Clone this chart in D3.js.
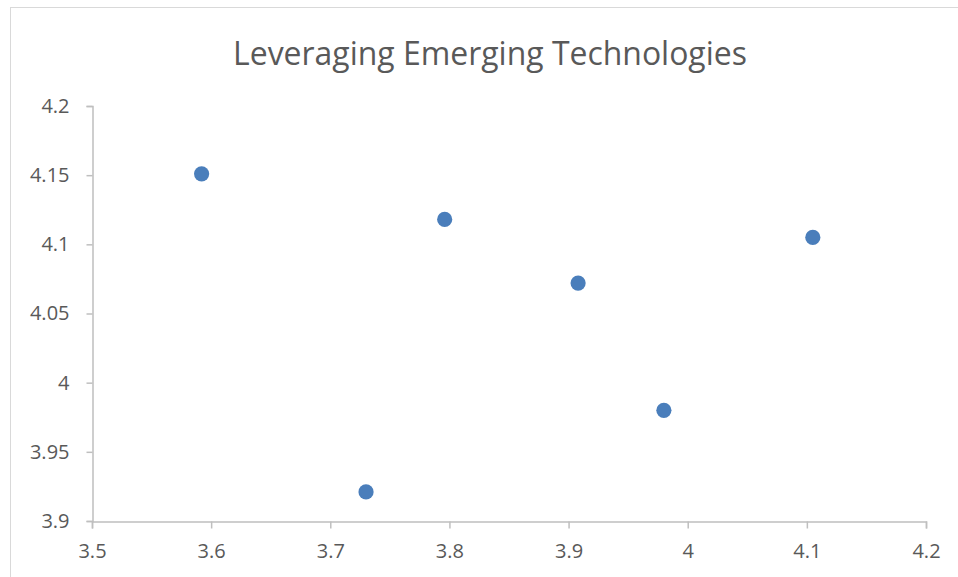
<!DOCTYPE html>
<html>
<head>
<meta charset="utf-8">
<script src="https://cdn.jsdelivr.net/npm/d3@7"></script>
<style>
  html, body { margin: 0; padding: 0; background: #fff; }
  svg { display: block; }
  text { font-family: "Open Sans", "Liberation Sans", sans-serif; fill: #595959; }
</style>
</head>
<body>
<svg id="chart" width="958" height="577"></svg>
<script>
// Chart data
const title = "Leveraging Emerging Technologies";
const xValues = [3.592, 3.796, 3.908, 4.105, 3.980, 3.730];
const yValues = [4.151, 4.118, 4.072, 4.105, 3.980, 3.921];
const xTicks = [3.5, 3.6, 3.7, 3.8, 3.9, 4.0, 4.1, 4.2];
const yTicks = [3.9, 3.95, 4.0, 4.05, 4.1, 4.15, 4.2];

const W = 958, H = 577;
const plot = { left: 92, right: 926, top: 106, bottom: 521 };

const svg = d3.select("#chart");

// Outer chart frame
svg.append("rect")
  .attr("x", 10.5).attr("y", 7.5)
  .attr("width", W).attr("height", H)
  .attr("fill", "#fff")
  .attr("stroke", "#D9D9D9")
  .attr("stroke-width", 1);

const x = d3.scaleLinear().domain([3.5, 4.2]).range([plot.left, plot.right]);
const y = d3.scaleLinear().domain([3.9, 4.2]).range([plot.bottom, plot.top]);

const fmt = d => String(+d.toFixed(2));

// X axis
const gx = svg.append("g")
  .attr("transform", `translate(0,${plot.bottom + 0.5})`)
  .call(d3.axisBottom(x).tickValues(xTicks).tickFormat(fmt).tickSize(7).tickSizeOuter(7).tickPadding(15));

// Y axis
const gy = svg.append("g")
  .attr("transform", `translate(${plot.left + 0.5},0)`)
  .call(d3.axisLeft(y).tickValues(yTicks).tickFormat(fmt).tickSize(6).tickSizeOuter(6).tickPadding(17));

[gx, gy].forEach(g => {
  g.selectAll("path.domain, line").attr("stroke", "#BFBFBF").attr("stroke-width", 1.5);
  g.selectAll("text")
    .attr("font-family", '"Open Sans", "Liberation Sans", sans-serif')
    .attr("font-size", 20)
    .attr("fill", "#595959");
});

// Points
svg.append("g")
  .selectAll("circle")
  .data(xValues.map((v, i) => [v, yValues[i]]))
  .join("circle")
  .attr("cx", d => x(d[0]))
  .attr("cy", d => y(d[1]))
  .attr("r", 7.6)
  .attr("fill", "#4A7EBB");

// Title, scaled to span its space
const t = svg.append("text")
  .attr("x", 490)
  .attr("y", 65)
  .attr("text-anchor", "middle")
  .attr("font-size", 32)
  .text(title);
const tw = t.node().getComputedTextLength();
t.attr("font-size", 32 * 514 / tw);
</script>
</body>
</html>
